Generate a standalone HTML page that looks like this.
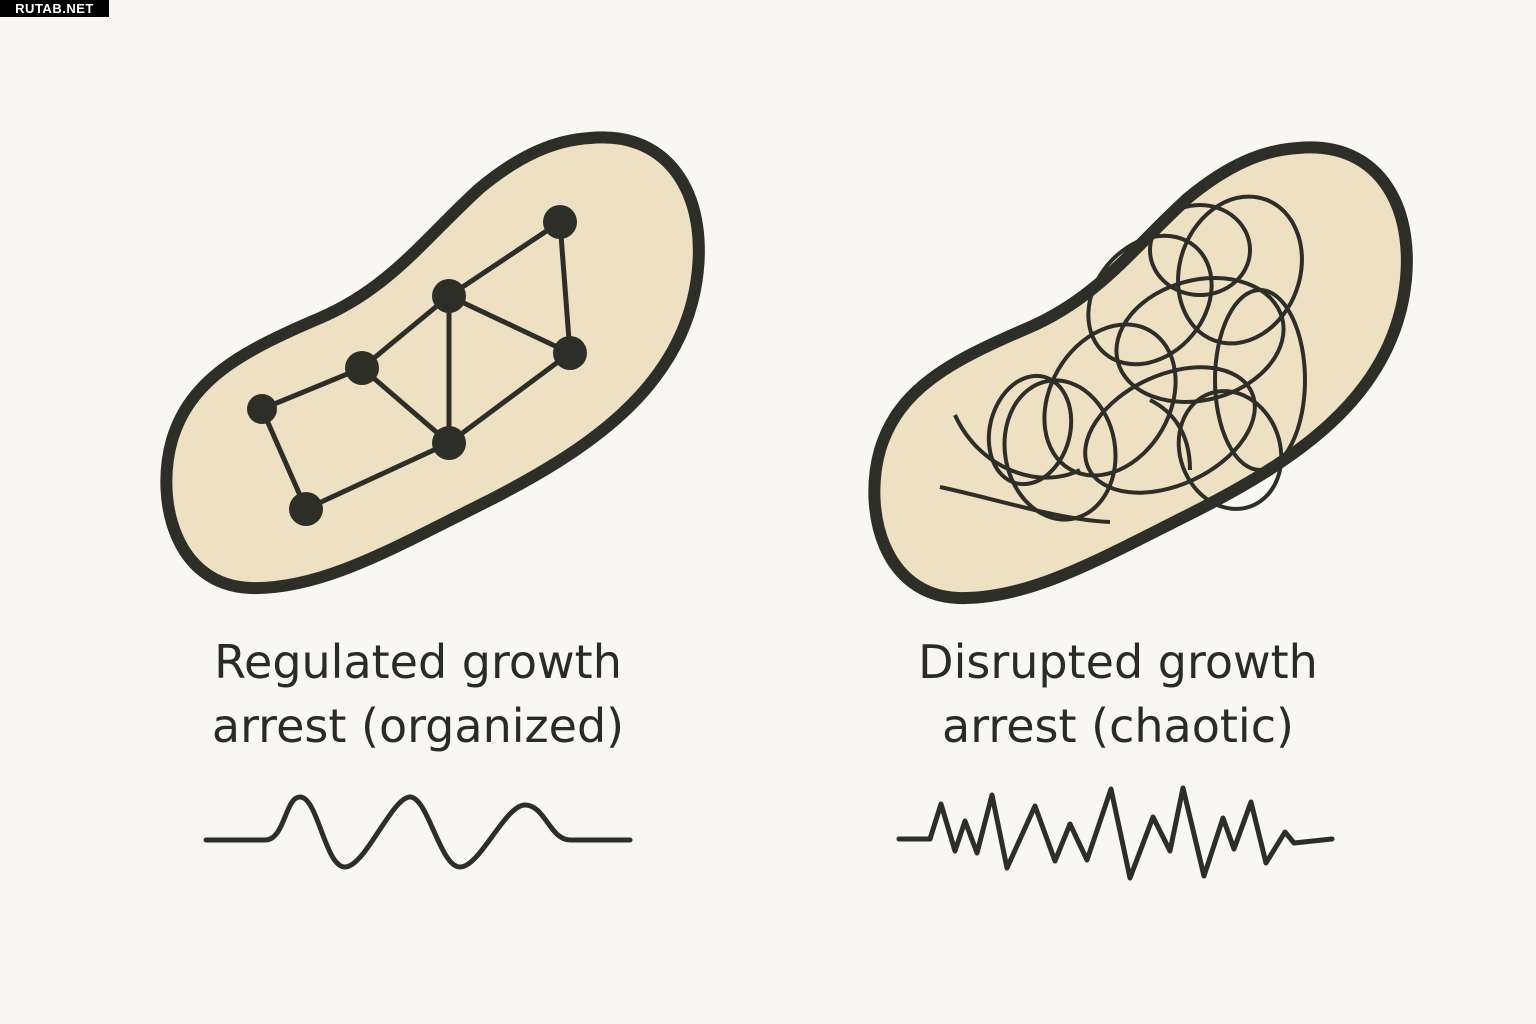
<!DOCTYPE html>
<html><head><style>
body{margin:0;width:1536px;height:1024px;background:#f8f7f3;overflow:hidden;position:relative;font-family:"Liberation Sans",sans-serif}
.wm{position:absolute;left:0;top:0;width:109px;height:17px;background:#000;color:#fff;font-weight:bold;font-size:13px;line-height:17px;text-align:center;letter-spacing:0.5px}
</style></head><body>
<div class="wm">RUTAB.NET</div>
<svg width="1536" height="1024" style="position:absolute;left:0;top:0">
<defs>
<path id="cell" d="M 590 138 C 672 130 712 200 695 290 C 675 390 590 450 480 505 C 390 550 320 590 250 588 C 175 585 155 500 172 440 C 190 380 240 352 320 318 C 390 288 425 238 480 188 C 520 155 555 140 590 138 Z"/>
</defs>
<g fill="#ede0c3" stroke="#2e2e28" stroke-width="12">
<use href="#cell"/>
<use href="#cell" transform="translate(708,10)"/>
</g>
<g stroke="#2e2e28" stroke-width="5" fill="none" stroke-linecap="round">
<path d="M560 222L449 296L570 353L560 222M449 296L362 368L262 409L306 509L449 443L362 368M449 296L449 443L570 353"/>
</g>
<g fill="#2e2e28">
<circle cx="560" cy="222" r="17"/><circle cx="449" cy="296" r="17"/><circle cx="570" cy="353" r="17"/>
<circle cx="362" cy="368" r="17"/><circle cx="262" cy="409" r="15"/><circle cx="449" cy="443" r="17"/><circle cx="306" cy="509" r="17"/>
</g>
<g stroke="#2e2e28" stroke-width="4" fill="none">
<ellipse cx="1240" cy="270" rx="60" ry="75" transform="rotate(20 1240 270)"/>
<ellipse cx="1200" cy="340" rx="85" ry="60" transform="rotate(-15 1200 340)"/>
<ellipse cx="1110" cy="400" rx="60" ry="80" transform="rotate(30 1110 400)"/>
<ellipse cx="1170" cy="430" rx="90" ry="55" transform="rotate(-25 1170 430)"/>
<ellipse cx="1260" cy="380" rx="45" ry="90"/>
<ellipse cx="1060" cy="450" rx="55" ry="70" transform="rotate(-10 1060 450)"/>
<ellipse cx="1150" cy="300" rx="55" ry="70" transform="rotate(40 1150 300)"/>
<ellipse cx="1200" cy="250" rx="50" ry="45"/>
<ellipse cx="1030" cy="430" rx="40" ry="55" transform="rotate(15 1030 430)"/>
<ellipse cx="1230" cy="450" rx="50" ry="60" transform="rotate(-20 1230 450)"/>
<path d="M955 415 C980 470 1040 490 1080 470"/>
<path d="M940 487 C1000 500 1060 520 1110 522"/>
<path d="M1190 470 C1190 430 1170 410 1150 400"/>
</g>
<g stroke="#2e2e28" stroke-width="5" fill="none" stroke-linecap="round" stroke-linejoin="round">
<path d="M206 840 L265 840 C285 840 285 797 300 797 C318 797 325 867 345 867 C365 867 392 797 410 797 C428 797 440 867 460 867 C480 867 505 805 525 805 C545 805 550 840 570 840 L630 840"/>
<path d="M899 839 L930 839 L941 804 L955 851 L965 821 L977 853 L992 795 L1007 868 L1035 806 L1055 861 L1070 824 L1087 860 L1111 789 L1130 878 L1153 817 L1170 851 L1183 788 L1204 876 L1223 818 L1234 849 L1251 802 L1266 863 L1285 832 L1294 843 L1332 839"/>
</g>
<g font-family="DejaVu Sans, sans-serif" font-size="46" fill="#2a2a26" text-anchor="middle">
<text x="418" y="678">Regulated growth</text>
<text x="418" y="742">arrest (organized)</text>
<text x="1118" y="678">Disrupted growth</text>
<text x="1118" y="742">arrest (chaotic)</text>
</g>
</svg>
</body></html>
